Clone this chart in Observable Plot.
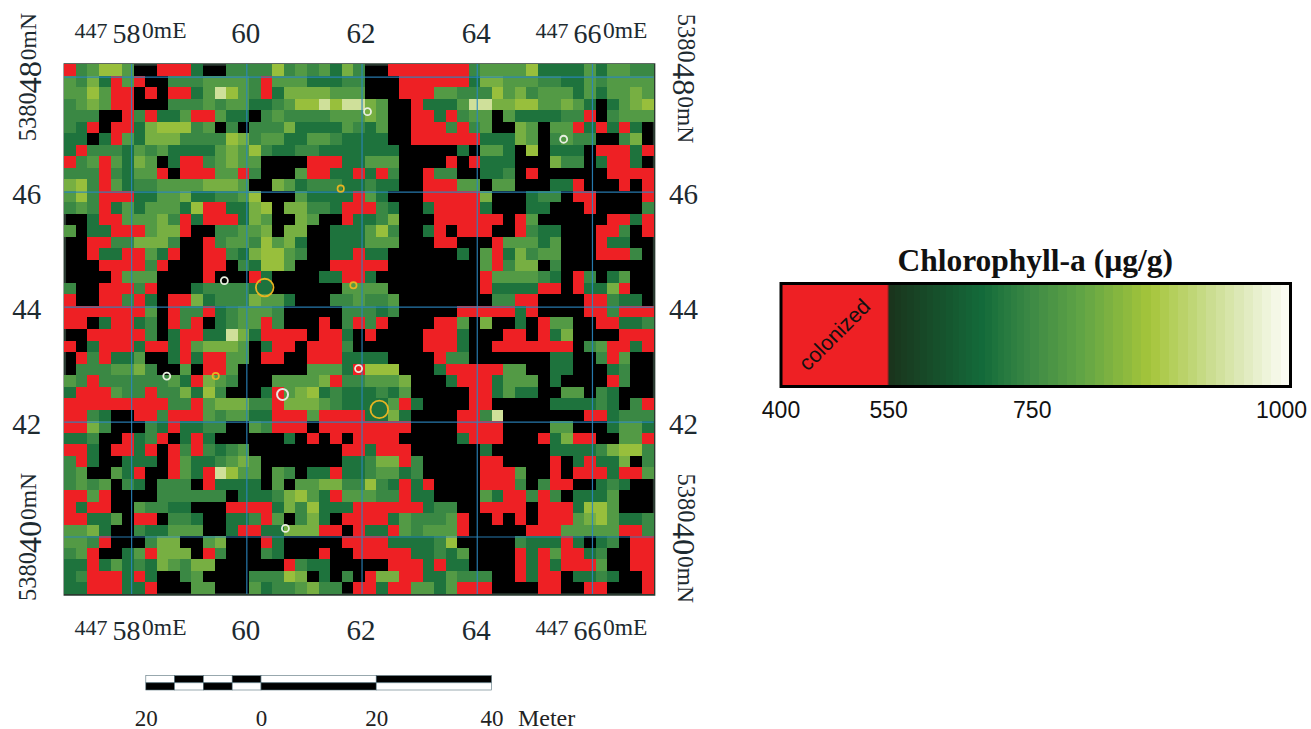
<!DOCTYPE html>
<html><head><meta charset="utf-8">
<script src="https://cdn.jsdelivr.net/npm/d3@7"></script>
<script src="https://cdn.jsdelivr.net/npm/@observablehq/plot@0.6"></script>
<style>
html,body{margin:0;padding:0;background:#fff;width:1311px;height:729px;overflow:hidden}
#root{position:relative;width:1311px;height:729px}
#root svg{position:absolute;background:transparent;overflow:visible}
</style></head><body><div id="root"></div>
<script>
// Raster. R = colonized, . = no value (black), a..f = green levels, dark to pale.
const rowsWest = [
"Rbceec..RRRa..bbbbebcbcadb","cbdaRcR..bbbccccbRcccaaabb","ccecRR.R.RRacfecbRaddddccc","bcdcRR...bbbcbccaabceefeff",
"bbb..RbRaacRRcaa.bcbbbbccc","baR.RRadeeebc.b.bbbdaaaacb","aa.aRcadddbbbbedbccaaccbaa","aRbbbacbcaaaacdcebaabbaaaa",
"RbcRcadc.aRRbcdcc....RRRaa","bbbRbaccR.RRRccRb...cRRaaR","debRcabbccccdddc..dcabbbaa","cebRRRaaccdaabbce...caaaaR",
"bcbRacacccaeRRaade.ddbbaRR","..aRRcccdbRaRRRadc..dc..Ra","c.aaRRRcddR..bbccd.dd..aaa","..RRbbdddb..Rbccbecda..aaa",
"..RaaRRcaR..RRbadeecb..aaR","...RRRRbR...RR.baeec...RRR","....Rccc....R...Ra....aaRR","b..RRRbR...abbbbaa......cc",
"R..RRbRa.RRdabbbdcca...bbc","RRRRRRRc.RbbRabcccb.....bb","RR.aRRab.RbR.abccRb...R.bR","..RRRRRb.aRRaafdaRRRR.RRa.",
"R.aRRRaRRaRcdddc.aRR.RRRb.",".RbRaac..aRaRRcc.RR..RRRaa",".bbbccdb..c.RRc......cccaR","cbRbbbbbbcaRdcb...ccccdRbb",
"aRRRcbbRbbdaeb...aRcdeabaa","RRRRRRRRRbbRcdddbbRdddcbaa","RRba..RRbRRRcbccaaRRRcRRRR","RRdb...baRaabb..cbRRR.RRRR",
"aab..RabR.aRa......a.R.R.R","RRa.RRaR.RbRbabc........RR","bRa..aaa.Rcaabcdc.......aa","bc..caR..RcaRfecc.cb.aaRaa",
"bcbc.ba.bbb.Raaaa.c.ccddbb","RRcR....bbbbbb.aaabdecaRcc","RaRR..cbbaa...RRRRadbeaaaR","RRaac.RR.bba..aabRc.bda.RR",
"ccda..baaccc..aRRaadddRR.R","ccbR...bdd..cd...Ra.....RR","bcR..acRddd.Rb...ba...R..R","aaRacabadcbdd......Rbaa...",
"abRRRaRa..bc....bbbed.a.b.","aaRRRaaR...cc...cabbcdbb.R"];
const rowsEast = [
"..RRRRRRRbcccceaaaacaccbb","...RRRRRRaddcccbbaacbcccc","...RRRccbbbecdbcccacaccdc","dc..Raaacffddeeccdca.acde",
"dc..RRaRbcc.caaaabbR.bccc","ac..RRRbRbc..dc.ccRaRaRa.","aa..RRRRRRaaadc.bcbb..bd.","aaa.....a.cca.e.aaa.RRRaR",
"ccc....R.Raaa...dbb.aRRa.","aRb..Rbb..aab.R......RRRR","baa..RRRcc.cc...aaR...R.R","ca...RRRRRd...abb.RR....R",
"Rba..aRRRRa...aa...R....b","abd...RRRRRR.Rc......RRaR","ceb..aR.RRR..Rbaa...RRb.R","ccc...RR...Rcccac...Raa..",
"aa......a.cRadbcc...RRRb.","RR........cRbdd.b........","a.........Rccccba.Rb.ac..","cc........RaaaaRR.RaadR..",
"bbc........bbRR....RRbaa.","bab.....RRRRRaR....RRbRRR","bR....RRc.d..a.Rcc..RRaab","R....RRRa...RR.Rad....RRR",
".....RRRa..RRRRRRR.bcRRaR","aa....Rbb.......aa..bRc..","eee...aRRRRRcc..aa...ab..","cccd...aRRRaccc.a....Rb..",
"abac.....RRacaa..cc.ba...","aacRa....RR.....aaaaba.bR","aada....RRbf.......RRabbb","RRRR....RRRR....cc...acca",
"RRR.....aRRR...RadRR..ccR","aRRR......a.....aaaabdeeb","bddRb.....RR....R.aRaad.b","bccab.....RRRc..R.RRRaRRc",
"ebaRaR....RRRb.bRR..aba..","cbbRaa....caRRbRb.aaac...","RRRRRabb..RRRR.RRRaeec...","RRacbbbcR..R.R.RRRcdecaab",
"aaRcbcccR.....RRRcccccRRb","RRaaaabe.....baaaRa.ab.RR","RRRRaabac....RaRcRRab..RR","..RRRaRaa....RaRaRRRc..RR",
"RddRRaacbbb..RaRR.aaba..R","RaRRccacRRR....RR..RR...R"];
const levelCodes = ["R","a","b","c","d","e","f"];
const levelValues = [480,700,745,780,820,852,930];

const colorStops = [400,549.9,550,682,750,800,864,930,1000];
const colorRange = ["#ee2024","#ee2024","#1a331c","#136b3a","#3d8a45","#62a545","#a5c53a","#cfe09a","#fdfdf8"];
const legendTicks = [400,550,750,1000];
const legendTickPx = [31,138.5,282,540];
const legendEdges = d3.range(550,1000,9);

// UTM grid
const west = 447568.4, east = 447670.7, north = 5380482.2, south = 5380390;
const eastings = [447580,447600,447620,447640,447660];
const northings = [5380480,5380460,5380440,5380420,5380400];
const midEast = [{e:447600,t:"60"},{e:447620,t:"62"},{e:447640,t:"64"}];
const endEast = [{e:447580,t:"58"},{e:447660,t:"66"}];
const midNorth = [{n:5380460,t:"46"},{n:5380440,t:"44"},{n:5380420,t:"42"}];
const endNorth = [{n:5380480,t:"48"},{n:5380400,t:"40"}];

// Sample sites
const whiteSmall = [[447620.95,5380474],[447655,5380469.2],[447596.1,5380444.6],[447619.4,5380429.3],[447586.1,5380428],[447606.7,5380401.5]];
const whiteLarge = [[447606.2,5380424.8]];
const goldSmall = [[447616.3,5380460.6],[447618.5,5380443.8],[447594.6,5380428]];
const goldLarge = [[447603.1,5380443.4],[447623,5380422.2]];

// Scale bar (metres)
const barZero = 447602.55;
const barStops = [-20,-15,-10,-5,0,20,40];
const barLabels = [-20,0,20,40];

const cw = (east-west)/51, ch = (north-south)/46;
const cells = [];
rowsWest.forEach((w,r)=>{
  const row = w+rowsEast[r];
  for(let c=0;c<row.length;c++){
    const k = levelCodes.indexOf(row[c]);
    if(k<0) continue;
    cells.push({x1:west+c*cw,x2:west+(c+1)*cw,y1:north-r*ch,y2:north-(r+1)*ch,v:levelValues[k]});
  }
});
const color = {type:"linear",domain:colorStops,range:colorRange,interpolate:"rgb"};
const serif = "'Liberation Serif',serif";
const sans = "'Liberation Sans',Arial,sans-serif";
const ink = "#1d2a30";
const bar = barStops.slice(0,-1).map((d,i)=>({x1:barZero+d,x2:barZero+barStops[i+1],i}));
const barY = [5380375.8,5380374.55,5380373.3];

const eastingLabels = (big,small)=>[
  Plot.text(midEast,{x:"e",text:"t",frameAnchor:"top",dy:big,dx:-1,lineAnchor:"bottom",textAnchor:"middle",fontFamily:serif,fontSize:29,fill:ink}),
  Plot.text(endEast,{x:"e",text:"t",frameAnchor:"top",dy:big,dx:-5,lineAnchor:"bottom",textAnchor:"middle",fontFamily:serif,fontSize:28,fill:ink}),
  Plot.text(endEast,{x:"e",text:()=>"447",frameAnchor:"top",dy:small,dx:-24,lineAnchor:"bottom",fontFamily:serif,fontSize:22,fill:ink,textAnchor:"end"}),
  Plot.text(endEast,{x:"e",text:()=>"0mE",frameAnchor:"top",dy:small,dx:10.5,lineAnchor:"bottom",fontFamily:serif,fontSize:23.5,fill:ink,textAnchor:"start"})
];

const map = Plot.plot({
  width:700,height:729,
  marginLeft:64.3,marginRight:46.4,marginTop:64,marginBottom:135,
  x:{domain:[west,east],axis:null},
  y:{domain:[south,north],axis:null},
  color,
  marks:[
    Plot.frame({fill:"#000",stroke:"#2a3a30",strokeWidth:2.5}),
    Plot.rect(cells,{x1:"x1",x2:"x2",y1:"y1",y2:"y2",fill:"v",shapeRendering:"crispEdges"}),
    Plot.ruleX(eastings,{stroke:"#2a86c0",strokeOpacity:.9,strokeWidth:1.2}),
    Plot.ruleY(northings,{stroke:"#2a86c0",strokeOpacity:.9,strokeWidth:1.2}),
    Plot.dot(whiteSmall,{x:"0",y:"1",r:3.5,stroke:"#e8efe0",strokeWidth:1.8}),
    Plot.dot(whiteLarge,{x:"0",y:"1",r:5.5,stroke:"#e8e4e0",strokeWidth:2}),
    Plot.dot(goldSmall,{x:"0",y:"1",r:3.2,stroke:"#e6b422",strokeWidth:1.7}),
    Plot.dot(goldLarge,{x:"0",y:"1",r:8.8,stroke:"#e6b422",strokeWidth:1.8}),
    ...eastingLabels(-21.5,-27),
    ...eastingLabels(575.5,570.5),
    Plot.text(midNorth,{y:"n",text:"t",frameAnchor:"left",dx:-38,dy:2.5,lineAnchor:"middle",textAnchor:"middle",fontFamily:serif,fontSize:29,fill:ink}),
    Plot.text(midNorth,{y:"n",text:"t",frameAnchor:"right",dx:29.5,dy:2.5,lineAnchor:"middle",textAnchor:"middle",fontFamily:serif,fontSize:29,fill:ink}),
    Plot.text(endNorth,{y:"n",text:"t",frameAnchor:"left",dx:-24,rotate:-90,lineAnchor:"bottom",textAnchor:"middle",fontFamily:serif,fontSize:32.5,fill:ink}),
    Plot.text(endNorth,{y:"n",text:()=>"5380",frameAnchor:"left",dx:-28.5,dy:15,rotate:-90,lineAnchor:"bottom",fontFamily:serif,fontSize:24.5,fill:ink,textAnchor:"end"}),
    Plot.text(endNorth,{y:"n",text:()=>"0mN",frameAnchor:"left",dx:-28.5,dy:-17,rotate:-90,lineAnchor:"bottom",fontFamily:serif,fontSize:23.5,fill:ink,textAnchor:"start"}),
    Plot.text(endNorth,{y:"n",text:"t",frameAnchor:"right",dx:18.5,dy:2,rotate:90,lineAnchor:"bottom",textAnchor:"middle",fontFamily:serif,fontSize:32.5,fill:ink}),
    Plot.text(endNorth,{y:"n",text:()=>"5380",frameAnchor:"right",dx:23.5,dy:-14.5,rotate:90,lineAnchor:"bottom",fontFamily:serif,fontSize:24.5,fill:ink,textAnchor:"end"}),
    Plot.text(endNorth,{y:"n",text:()=>"0mN",frameAnchor:"right",dx:23.5,dy:19,rotate:90,lineAnchor:"bottom",fontFamily:serif,fontSize:23.5,fill:ink,textAnchor:"start"}),
    Plot.rect(bar,{x1:"x1",x2:"x2",y1:barY[0],y2:barY[1],fill:d=>d.i%2?"#000":"#fff",stroke:"#55707a",strokeWidth:.6}),
    Plot.rect(bar,{x1:"x1",x2:"x2",y1:barY[1],y2:barY[2],fill:d=>d.i%2?"#fff":"#000",stroke:"#55707a",strokeWidth:.6}),
    Plot.text(barLabels,{x:d=>barZero+d,y:5380367.2,text:d=>String(Math.abs(d)),fontFamily:serif,fontSize:23,fill:"#222",lineAnchor:"bottom"}),
    Plot.text(["Meter"],{x:barZero+40,y:5380367.2,text:d=>d,dx:26,fontFamily:serif,fontSize:24,fill:"#222",textAnchor:"start",lineAnchor:"bottom"})
  ]
});
map.style.left="0";map.style.top="0";
// The reference is a soft, resampled raster: soften the cells a little.
const cellGroup = map.querySelectorAll('g[aria-label="rect"]')[0];
if(cellGroup) cellGroup.style.filter="blur(0.7px)";

// Legend: its x axis is bent between the ticks, as in the reference
const legendX = d3.scaleLinear().domain(legendTicks).range(legendTickPx);
const legend = Plot.plot({
  width:561,height:200,marginTop:48,marginBottom:49,marginLeft:30.5,marginRight:21,
  x:{transform:legendX,domain:[31,540],axis:null},
  y:{domain:[0,1],axis:null},
  color,
  marks:[
    Plot.rect(legendEdges,{x1:d=>d,x2:d=>Math.min(d+9.5,1000),y1:0,y2:1,fill:d=>d+4.5,shapeRendering:"crispEdges"}),
    Plot.rect([480],{x1:400,x2:550,y1:0,y2:1,fill:d=>d,stroke:"#8a2020",strokeWidth:1}),
    Plot.frame({stroke:"#000",strokeWidth:3}),
    Plot.text(["colonized"],{x:()=>475,y:()=>.5,text:d=>d,rotate:-45,fontFamily:sans,fontSize:21.5,fill:"#111"}),
    Plot.text(["Chlorophyll-a (µg/g)"],{x:()=>750,frameAnchor:"top",dy:-23,dx:3,text:d=>d,textAnchor:"middle",fontFamily:serif,fontWeight:"bold",fontSize:31.5,fill:"#111",lineAnchor:"middle"}),
    Plot.text(legendTicks.slice(0,3),{x:d=>d,frameAnchor:"bottom",dy:31,text:d=>String(d),textAnchor:"middle",fontFamily:sans,fontSize:23,fill:"#111",lineAnchor:"bottom"}),
    Plot.text(legendTicks.slice(3),{x:d=>d,frameAnchor:"bottom",dx:-9,dy:31,text:d=>String(d),textAnchor:"middle",fontFamily:sans,fontSize:23,fill:"#111",lineAnchor:"bottom"})
  ]
});
legend.style.left="750px";legend.style.top="235px";
document.getElementById("root").append(map,legend);
</script>
</body></html>
